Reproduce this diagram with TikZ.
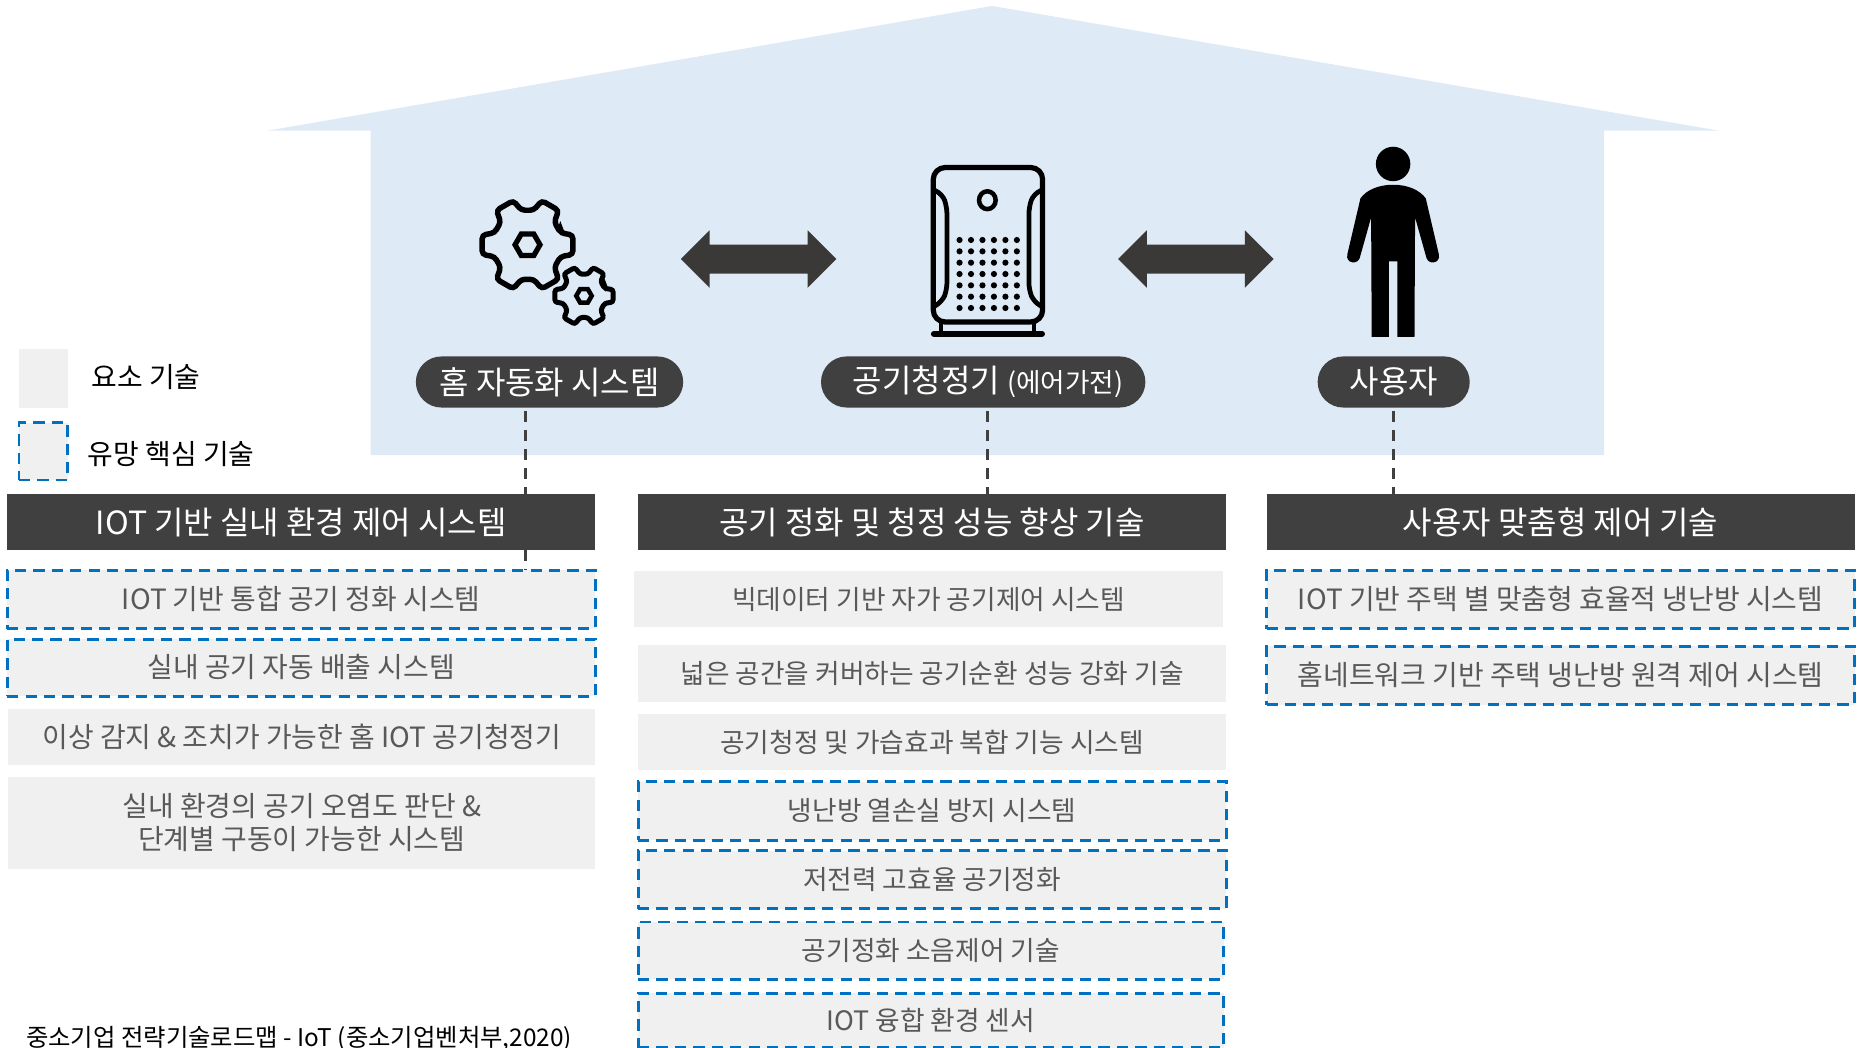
\documentclass[tikz,border=0pt]{standalone}
\usepackage{fontspec}
\setmainfont{Noto Sans CJK KR}
\usetikzlibrary{shapes.arrows}
\definecolor{house}{HTML}{DEEAF6}
\definecolor{dark}{HTML}{404040}
\definecolor{lightbox}{HTML}{F0F0F0}
\definecolor{bluedash}{HTML}{0070C0}
\definecolor{graytext}{HTML}{595959}
\definecolor{arrowgray}{HTML}{3B3838}
\tikzset{
  every node/.style={inner sep=0pt,outer sep=0pt},
  plainbox/.style={fill=lightbox,text=graytext,font=\fontsize{23.5}{28}\selectfont,align=center,text height=20pt,text depth=3.1pt},
  twolines/.style={text height=,text depth=},
  midsize/.style={font=\fontsize{22.5}{28}\selectfont},
  dashbox/.style={plainbox,draw=bluedash,line width=2.5pt,dash pattern=on 9.5pt off 6pt},
  header/.style={fill=dark,text=white,font=\fontsize{26.9}{30}\selectfont,minimum width=495pt,minimum height=47pt,text height=24pt,text depth=3.4pt},
  pill/.style={fill=dark,text=white,rounded corners=21.5pt,minimum height=43pt,font=\fontsize{26.9}{30}\selectfont},
  link/.style={draw=dark,line width=2.3pt,dash pattern=on 9pt off 7pt},
  legendtext/.style={text=black,font=\fontsize{23.5}{28}\selectfont,anchor=west},
  bothways/.style={shape=double arrow,fill=arrowgray,inner sep=12pt,minimum height=131pt,
    double arrow head extend=12pt,double arrow head indent=0pt},
  wide/.style={minimum width=495pt,minimum height=#1},
}
\newcommand{\mygear}[6]{%
  \begin{scope}[shift={(#1,#2)}]
    \draw[black,line width=#6,rounded corners=#5] (-20:#4)
      \foreach \a in {0,60,...,300}{ -- (\a-20:#4) -- (\a-12:#3) -- (\a+12:#3) -- (\a+20:#4) } -- cycle;
  \end{scope}}
\begin{document}
\begin{tikzpicture}[x=1pt,y=-1pt]
\useasboundingbox (0,0) rectangle (1568,882);
% house
\fill[house] (835,5) -- (1447,110) -- (1350,110) -- (1350,383) -- (312,383) -- (312,110) -- (225,110) -- cycle;
% pills
\node[pill,minimum width=225pt] (p1) at (462.5,321.5) {홈 자동화 시스템};
\node[pill,minimum width=273pt] (p2) at (827.5,321.5) {\hspace*{8pt}공기청정기 {\fontsize{22.4}{26}\selectfont (에어가전)}};
\node[pill,minimum width=128pt] (p3) at (1173,321.5) {사용자};
% headers
\node[header] (h1) at (253.5,439.5) {IOT 기반 실내 환경 제어 시스템};
\node[header] (h2) at (784.5,439.5) {공기 정화 및 청정 성능 향상 기술};
\node[header] (h3) at (1313.5,439.5) {사용자 맞춤형 제어 기술};
% connectors
\coordinate (c1) at (442,346);
\coordinate (c2) at (831,346);
\coordinate (c3) at (1173,346);
\coordinate (c1e) at (442,480);
\draw[link] (c2) -- (c2 |- h2.north);
\draw[link] (c3) -- (c3 |- h3.north);
\draw[link] (c1) -- (c1 |- h1.north);
\draw[link] (c1 |- h1.south) -- (c1e);
% legend
\node[fill=lightbox,minimum width=41pt,minimum height=49pt] (lg1) at (36.5,318.5) {};
\node[fill=lightbox,draw=bluedash,line width=2.5pt,dash pattern=on 9.5pt off 6pt,minimum width=41pt,minimum height=48pt] (lg2) at (36.5,380) {};
\node[legendtext] (lt1) at (77,317) {요소 기술};
\node[legendtext] (lt2) at (74,382.5) {유망 핵심 기술};
% left column
\node[dashbox,wide=49pt] (l1) at (253.5,504.5) {IOT 기반 통합 공기 정화 시스템};
\node[dashbox,wide=48pt] (l2) at (253.5,562) {실내 공기 자동 배출 시스템};
\node[plainbox,minimum width=494pt,minimum height=47pt] (l3) at (254,620.5) {이상 감지 \& 조치가 가능한 홈 IOT 공기청정기};
\node[plainbox,twolines,minimum width=494pt,minimum height=77pt] (l4) at (254,692.5) {실내 환경의 공기 오염도 판단 \&\\단계별 구동이 가능한 시스템};
% middle column
\node[plainbox,midsize,wide=47pt] (m1) at (781.5,504.5) {빅데이터 기반 자가 공기제어 시스템};
\node[plainbox,midsize,wide=48pt] (m2) at (784.5,567) {넓은 공간을 커버하는 공기순환 성능 강화 기술};
\node[plainbox,midsize,wide=47pt] (m3) at (784.5,624.5) {공기청정 및 가습효과 복합 기능 시스템};
\node[dashbox,midsize,wide=49pt] (m4) at (784.5,682.5) {냉난방 열손실 방지 시스템};
\node[dashbox,midsize,wide=49pt] (m5) at (784.5,740.5) {저전력 고효율 공기정화};
\node[dashbox,midsize,minimum width=493pt,minimum height=48pt] (m6) at (783.5,800) {공기정화 소음제어 기술};
\node[dashbox,midsize,minimum width=493pt,minimum height=46pt] (m7) at (783.5,859) {IOT 융합 환경 센서};
% right column
\node[dashbox,wide=49pt] (r1) at (1313.5,504.5) {IOT 기반 주택 별 맞춤형 효율적 냉난방 시스템};
\node[dashbox,wide=49pt] (r2) at (1313.5,568.5) {홈네트워크 기반 주택 냉난방 원격 제어 시스템};
% source
\node[anchor=west,text=black,font=\fontsize{20.5}{24}\selectfont] (src) at (22,874) {중소기업 전략기술로드맵 - IoT (중소기업벤처부,2020)};
% arrows
\node[bothways] (a1) at (638.5,218) {};
\node[bothways] (a2) at (1006.5,218) {};
% gears
\mygear{444}{206}{39}{29.5}{3pt}{4.6pt}
\mygear{491.5}{249}{25}{18.5}{2pt}{4.2pt}
\draw[black,line width=4.4pt] (444,206) ++(0:10.5) -- ++(120:10.5) -- ++(180:10.5) -- ++(240:10.5) -- ++(300:10.5) -- ++(0:10.5) -- cycle;
\draw[black,line width=3.8pt] (491.5,249) ++(0:6.5) -- ++(120:6.5) -- ++(180:6.5) -- ++(240:6.5) -- ++(300:6.5) -- ++(0:6.5) -- cycle;
% air purifier
\draw[black,line width=4.4pt,rounded corners=10pt] (785.5,141) rectangle (877.5,271);
\draw[black,line width=4pt,rounded corners=6pt] (786,160) -- (793,163) -- (797,174) -- (797,244) -- (793,254) -- (786,258);
\draw[black,line width=4pt,rounded corners=6pt] (877,160) -- (870,163) -- (866,174) -- (866,244) -- (870,254) -- (877,258);
\draw[black,line width=3.4pt] (792,271) -- (792,281);
\draw[black,line width=3.4pt] (870,271) -- (870,281);
\draw[black,line width=5pt,line cap=round] (786,281) -- (877,281);
\draw[black,line width=3.8pt] (831,168.5) ellipse (7pt and 7.5pt);
\foreach \i in {0,...,5}{\foreach \j in {0,...,6}{
  \fill[black] ({807.6+9.65*\i},{202+9.54*\j}) circle (2.6pt);}}
% person
\fill[black] (1172.5,138) ellipse (14.5pt and 14.5pt);
\fill[black] (1172.5,155.5) .. controls (1160,155.5) and (1150,160) .. (1145,167)
  -- (1134,214) .. controls (1132,222) and (1144,224) .. (1145,215)
  -- (1154,183) -- (1154.5,283.5) -- (1169,283.5) -- (1169,220) -- (1176,220) -- (1176,283.5) -- (1190.5,283.5) -- (1191,183)
  -- (1200,215) .. controls (1201,224) and (1213,222) .. (1211,214)
  -- (1200,167) .. controls (1195,160) and (1185,155.5) .. (1172.5,155.5) -- cycle;
\end{tikzpicture}
\end{document}
